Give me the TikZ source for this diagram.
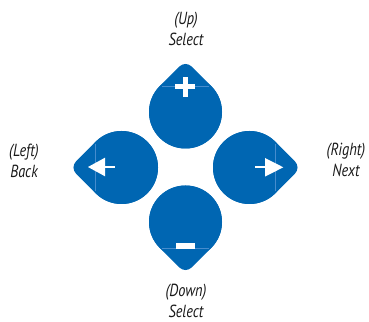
\documentclass[tikz,border=0pt]{standalone}
\usepackage{fontspec}
\newfontfamily\lblfont[FakeStretch=0.82]{PT Sans}
\definecolor{btnblue}{RGB}{0,102,178}
\definecolor{seamblue}{RGB}{70,140,205}
\tikzset{
  btn/.style={fill=btnblue},
  seamline/.style={draw=seamblue, line width=0.4pt, shorten >=2pt, shorten <=2pt},
  glyph/.style={fill=white},
  stem/.style={draw=white, line width=2pt},
  lbl/.style={font=\lblfont\itshape\fontsize{17.5}{21}\selectfont, align=center, text=black!90, inner sep=0pt}
}
\newcommand\dropbutton[3]{%
  \fill[btn, shift={(#1pt,#2pt)}] (#3-45:36.5pt) -- ++(#3+45:27.8pt)
     arc[start angle=#3-45, delta angle=90, radius=8.7pt]
     -- (#3+45:36.5pt)
     arc[start angle=#3+45, delta angle=270, radius=36.5pt] -- cycle;
  \fill[btn, shift={(#1pt,#2pt)}] (0,0) circle[radius=36.5pt];
  \draw[seamline, shift={(#1pt,#2pt)}] (#3-45:36.5pt) -- (#3+45:36.5pt);
}
\begin{document}
\begin{tikzpicture}[x=1pt,y=1pt]
\useasboundingbox (0,0) rectangle (369,321);
% buttons
\dropbutton{185.5}{209}{90}
\dropbutton{185.5}{99}{-90}
\dropbutton{121.5}{153.5}{180}
\dropbutton{249.5}{153.5}{0}
% plus
\fill[glyph] (175,231.8) rectangle (195,236.8);
\fill[glyph] (182.5,224.3) rectangle (187.5,244.3);
% minus
\fill[glyph] (175.5,72) rectangle (194.5,78);
% left arrow
\coordinate (lt) at (88,154);
\coordinate (lb) at (105,154);
\coordinate (le) at (115,154);
\fill[glyph] (lt) -- ([yshift=9.3pt]lb) -- ([yshift=-9.3pt]lb) -- cycle;
\draw[stem] (lb) -- (le);
% right arrow
\coordinate (rt) at (283.3,153.7);
\coordinate (rb) at (265,153.7);
\coordinate (re) at (255,153.7);
\fill[glyph] (rt) -- ([yshift=9.3pt]rb) -- ([yshift=-9.3pt]rb) -- cycle;
\draw[stem] (rb) -- (re);
% labels
\node[lbl] (up) at (186,292.5) {(Up)\\Select};
\node[lbl] (left) at (24,160.5) {(Left)\\Back};
\node[lbl] (right) at (346,161) {(Right)\\Next};
\node[lbl] (down) at (186,20.5) {(Down)\\Select};
\end{tikzpicture}
\end{document}
